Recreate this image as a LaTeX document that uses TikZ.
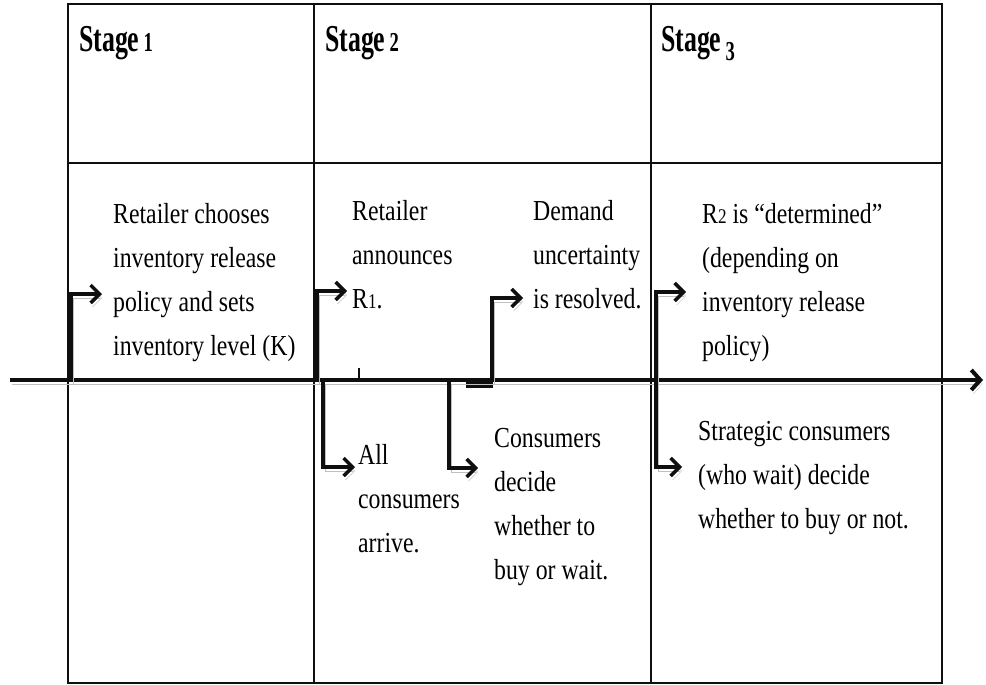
\documentclass[tikz,border=0pt]{standalone}
\usepackage{fontspec}
\setmainfont{Liberation Serif}
\usepackage{tikz}
\usetikzlibrary{arrows.meta}
\usepackage{xcolor}
\definecolor{ColLine}{RGB}{15,15,15}
\definecolor{ColShade}{RGB}{165,165,165}
\newcommand\OldNum[1]{\scalebox{.72}{#1}}
\newcommand\OldNumLow[1]{\raisebox{-.22em}{\scalebox{.72}{#1}}}
\tikzstyle{GridLine}=[ColLine,line width=1.3pt]
\tikzstyle{StageLabel}=[anchor=base west,inner sep=0pt,xscale=.68,font=\fontsize{38}{40}\selectfont\bfseries]
\tikzstyle{EventText}=[anchor=north west,inner sep=0pt,align=left,xscale=.82,font=\fontsize{29}{44}\selectfont]
\tikzstyle{TimeLine}=[ColLine,line width=4pt,-{Straight Barb[length=9pt,width=20pt]},
preaction={draw=ColShade!70,transform canvas={shift={(2pt,-4pt)}}}]
\tikzstyle{EventArrow}=[ColLine,line width=3.5pt,-{Straight Barb[length=9pt,width=18pt]},
preaction={draw=ColShade!70,transform canvas={shift={(2pt,-4pt)}}}]

\begin{document}
\begin{tikzpicture}[x=1pt,y=-1pt]
        \useasboundingbox(0,0)rectangle(986,685);
        % table
        \draw[GridLine](68,4)rectangle(942,683);
        \draw[GridLine](68,163)--(942,163);
        \draw[GridLine](314,4)--(314,683);
        \draw[GridLine](651,4)--(651,683);
        \draw[ColLine,line width=2pt](68,4)--(942,4);
        \draw[ColLine,line width=2.2pt](68,683)--(942,683);
        % stages
        \node[StageLabel](s1)at(79,52){Stage\,\OldNum{1}};
        \node[StageLabel](s2)at(325,52){Stage\,\OldNum{2}};
        \node[StageLabel](s3)at(661,52){Stage\,\OldNumLow{3}};
        % events above the line
        \node[EventText](k)at(113,203){Retailer chooses\\inventory release\\policy and sets\\inventory level (K)};
        \node[EventText](r1)at(352,200){Retailer\\announces\\R\OldNum{1}.};
        \node[EventText](d)at(533,200){Demand\\uncertainty\\is resolved.};
        \node[EventText](r2)at(702,203){R\OldNum{2} is ``determined''\\(depending on\\inventory release\\policy)};
        % events below the line
        \node[EventText](c)at(358,444){All\\consumers\\arrive.};
        \node[EventText](w)at(494,428){Consumers\\decide\\whether to\\buy or wait.};
        \node[EventText](sc)at(698,421){Strategic consumers\\(who wait) decide\\whether to buy or not.};
        % timeline
        \coordinate(t0)at(10,380);
        \coordinate(t1)at(983,380);
        \fill[ColLine](466,380)rectangle(493,388);
        \draw[ColLine,line width=2pt](359,368)--(359,380);
        \draw[TimeLine](t0)--(t1);
        \coordinate(pk)at(71,380);\coordinate(qk)at(102,294);
        \coordinate(pr1)at(317,380);\coordinate(qr1)at(347,291);
        \coordinate(pd)at(492,380);\coordinate(qd)at(523,298);
        \coordinate(pr2)at(656,380);\coordinate(qr2)at(686,292);
        \coordinate(pc)at(323,380);\coordinate(qc)at(355,467);
        \coordinate(pw)at(449,380);\coordinate(qw)at(478,468);
        \coordinate(ps)at(656,380);\coordinate(qs)at(682,467);
        \draw[EventArrow](pk)|-(qk);
        \draw[EventArrow](pr1)|-(qr1);
        \draw[EventArrow](pd)|-(qd);
        \draw[EventArrow](pr2)|-(qr2);
        \draw[EventArrow](pc)|-(qc);
        \draw[EventArrow](pw)|-(qw);
        \draw[EventArrow](ps)|-(qs);
    \end{tikzpicture}
\end{document}
